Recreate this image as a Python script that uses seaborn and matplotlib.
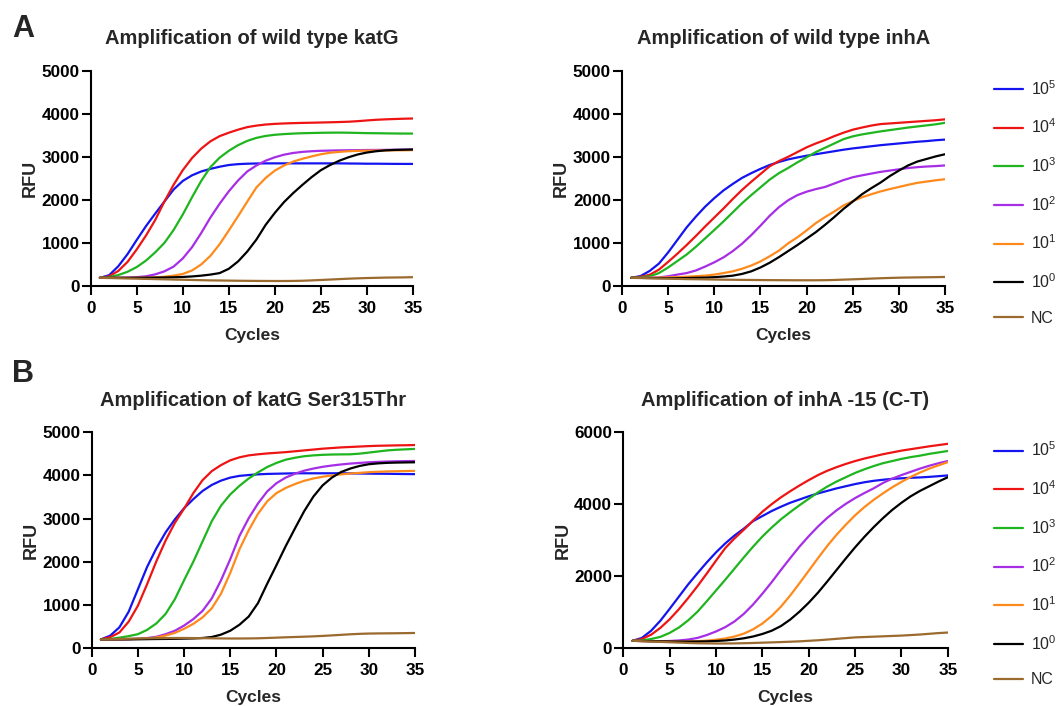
import numpy as np
import pandas as pd
import matplotlib
matplotlib.use('Agg')
import matplotlib.pyplot as plt
import seaborn as sns

cycles = list(range(1, 36))
labels = ['$10^5$', '$10^4$', '$10^3$', '$10^2$', '$10^1$', '$10^0$', 'NC']
colors = ['#1414f0', '#ee1414', '#1fb51f', '#a62ee6', '#ff8a1c', '#000000', '#9b6a2e']

# Panel A left: wild type katG
katg_wt_1e5 = [190, 250, 460, 740, 1070, 1390, 1680, 1960, 2240, 2440, 2570, 2660, 2720, 2770, 2810, 2830, 2840, 2845, 2848,
               2848, 2848, 2848, 2848, 2848, 2848, 2848, 2848, 2845, 2843, 2840, 2840, 2838, 2836, 2835, 2835]
katg_wt_1e4 = [190, 225, 350, 560, 850, 1170, 1530, 1960, 2350, 2690, 2970, 3190, 3360, 3480, 3560, 3630, 3690, 3725, 3750,
               3765, 3775, 3782, 3788, 3792, 3797, 3802, 3808, 3815, 3828, 3845, 3860, 3870, 3878, 3885, 3890]
katg_wt_1e3 = [190, 205, 255, 330, 440, 590, 780, 1000, 1300, 1660, 2060, 2440, 2760, 2980, 3140, 3270, 3370, 3440, 3485,
               3512, 3528, 3540, 3548, 3553, 3558, 3561, 3562, 3560, 3555, 3550, 3548, 3545, 3542, 3540, 3540]
katg_wt_1e2 = [190, 190, 192, 195, 205, 225, 270, 340, 450, 640, 900, 1230, 1590, 1910, 2200, 2450, 2660, 2800, 2910,
               2990, 3050, 3090, 3115, 3130, 3140, 3145, 3150, 3153, 3155, 3158, 3160, 3162, 3165, 3168, 3170]
katg_wt_1e1 = [190, 190, 190, 190, 192, 195, 200, 215, 240, 280, 360, 500, 700, 970, 1290, 1620, 1960, 2290, 2510,
               2680, 2800, 2890, 2955, 3010, 3060, 3095, 3115, 3130, 3138, 3142, 3145, 3148, 3150, 3152, 3155]
katg_wt_1e0 = [190, 190, 190, 190, 190, 192, 195, 198, 203, 210, 222, 240, 265, 300, 400, 570, 800, 1080, 1420,
               1700, 1950, 2160, 2350, 2530, 2690, 2810, 2910, 2990, 3055, 3100, 3130, 3150, 3160, 3165, 3170]
katg_wt_nc = [190, 185, 180, 175, 170, 165, 160, 155, 150, 145, 140, 135, 130, 128, 125, 122, 120, 118, 117,
              116, 116, 118, 122, 130, 140, 150, 160, 170, 178, 185, 190, 195, 198, 200, 205]

# Panel A right: wild type inhA
inha_wt_1e5 = [190, 230, 350, 520, 780, 1070, 1360, 1610, 1840, 2040, 2220, 2370, 2510, 2620, 2720, 2810, 2880, 2940, 2985,
               3025, 3060, 3095, 3130, 3165, 3195, 3220, 3245, 3270, 3290, 3310, 3330, 3350, 3365, 3385, 3400]
inha_wt_1e4 = [190, 215, 260, 380, 560, 750, 950, 1160, 1380, 1590, 1800, 2020, 2230, 2420, 2600, 2780, 2900, 3000, 3110,
               3220, 3310, 3390, 3480, 3560, 3630, 3680, 3725, 3760, 3775, 3790, 3805, 3820, 3835, 3850, 3870]
inha_wt_1e3 = [190, 205, 225, 300, 430, 580, 730, 910, 1105, 1300, 1500, 1710, 1920, 2110, 2290, 2470, 2620, 2740, 2870,
               2990, 3110, 3210, 3310, 3410, 3475, 3520, 3555, 3590, 3620, 3650, 3680, 3705, 3730, 3755, 3790]
inha_wt_1e2 = [190, 190, 192, 200, 225, 265, 300, 360, 450, 550, 665, 810, 980, 1180, 1400, 1630, 1830, 1990, 2110,
               2190, 2250, 2300, 2380, 2460, 2525, 2570, 2610, 2650, 2680, 2710, 2740, 2760, 2775, 2785, 2800]
inha_wt_1e1 = [190, 190, 190, 195, 200, 207, 215, 228, 240, 265, 300, 340, 400, 475, 570, 690, 820, 990, 1130,
               1290, 1460, 1600, 1730, 1870, 1970, 2060, 2130, 2195, 2250, 2300, 2350, 2395, 2425, 2455, 2480]
inha_wt_1e0 = [190, 188, 185, 183, 182, 182, 185, 190, 195, 205, 220, 240, 280, 340, 430, 540, 670, 810, 950,
               1100, 1250, 1420, 1600, 1790, 1960, 2130, 2270, 2400, 2550, 2680, 2800, 2890, 2950, 3010, 3060]
inha_wt_nc = [190, 185, 180, 175, 170, 165, 160, 157, 154, 150, 147, 145, 142, 140, 138, 136, 135, 134, 133,
              133, 133, 135, 140, 148, 155, 163, 172, 180, 187, 193, 197, 200, 203, 206, 210]

# Panel B left: katG Ser315Thr
katg_mut_1e5 = [200, 285, 480, 840, 1360, 1880, 2310, 2680, 2980, 3240, 3450, 3640, 3780, 3880, 3950, 3990, 4010, 4025, 4035,
                4040, 4045, 4050, 4050, 4050, 4050, 4050, 4050, 4048, 4045, 4042, 4040, 4038, 4035, 4032, 4030]
katg_mut_1e4 = [200, 250, 360, 610, 980, 1480, 2010, 2490, 2900, 3230, 3590, 3890, 4100, 4240, 4350, 4420, 4465, 4490, 4510,
                4525, 4540, 4560, 4580, 4600, 4620, 4635, 4650, 4660, 4670, 4680, 4688, 4692, 4697, 4700, 4705]
katg_mut_1e3 = [200, 210, 240, 275, 320, 420, 570, 790, 1130, 1570, 2000, 2470, 2940, 3300, 3560, 3760, 3930, 4070, 4195,
                4290, 4365, 4410, 4445, 4465, 4478, 4485, 4488, 4490, 4505, 4530, 4555, 4580, 4595, 4605, 4615]
katg_mut_1e2 = [200, 200, 200, 205, 215, 230, 260, 320, 400, 520, 670, 860, 1150, 1570, 2060, 2600, 3010, 3350, 3630,
                3820, 3950, 4040, 4110, 4160, 4200, 4230, 4255, 4275, 4290, 4305, 4315, 4322, 4328, 4332, 4335]
katg_mut_1e1 = [200, 200, 200, 205, 210, 220, 245, 290, 350, 445, 560, 710, 920, 1260, 1740, 2290, 2730, 3110, 3400,
                3590, 3710, 3800, 3875, 3930, 3970, 4000, 4025, 4045, 4060, 4075, 4085, 4092, 4098, 4102, 4105]
katg_mut_1e0 = [200, 200, 200, 200, 202, 205, 208, 210, 213, 217, 222, 232, 255, 310, 400, 540, 730, 1040, 1490,
                1920, 2360, 2770, 3170, 3510, 3770, 3950, 4080, 4160, 4220, 4260, 4280, 4292, 4298, 4302, 4305]
katg_mut_nc = [200, 205, 210, 215, 220, 225, 228, 230, 232, 232, 230, 228, 225, 222, 220, 220, 222, 225, 232,
               240, 248, 255, 262, 270, 280, 292, 305, 318, 328, 335, 338, 340, 342, 345, 348]

# Panel B right: inhA -15 (C-T)
inha_mut_1e5 = [200, 280, 480, 760, 1090, 1430, 1770, 2080, 2380, 2660, 2910, 3130, 3320, 3530, 3670, 3810, 3930, 4040, 4130,
                4220, 4300, 4370, 4440, 4500, 4560, 4610, 4650, 4680, 4705, 4720, 4735, 4745, 4760, 4780, 4800]
inha_mut_1e4 = [200, 250, 370, 560, 800, 1080, 1390, 1720, 2070, 2430, 2780, 3050, 3290, 3545, 3790, 4000, 4190, 4360, 4520,
                4670, 4810, 4930, 5030, 5120, 5200, 5270, 5330, 5390, 5440, 5490, 5530, 5570, 5610, 5645, 5680]
inha_mut_1e3 = [200, 210, 250, 310, 420, 570, 770, 1010, 1300, 1600, 1900, 2210, 2520, 2820, 3100, 3350, 3580, 3780, 3970,
                4150, 4330, 4490, 4630, 4750, 4870, 4970, 5060, 5140, 5200, 5260, 5310, 5350, 5400, 5440, 5480]
inha_mut_1e2 = [200, 195, 190, 190, 195, 210, 235, 280, 360, 460, 580, 740, 950, 1210, 1510, 1830, 2170, 2500, 2820,
                3110, 3380, 3620, 3830, 4010, 4170, 4310, 4440, 4590, 4710, 4810, 4900, 4990, 5070, 5140, 5200]
inha_mut_1e1 = [200, 195, 190, 185, 180, 180, 182, 190, 205, 230, 265, 320, 400, 520, 680, 890, 1150, 1460, 1800,
                2150, 2500, 2840, 3150, 3430, 3690, 3920, 4120, 4300, 4470, 4620, 4760, 4880, 4990, 5080, 5170]
inha_mut_1e0 = [200, 195, 190, 185, 180, 178, 178, 180, 185, 195, 210, 235, 270, 320, 390, 480, 610, 790, 1010,
                1260, 1540, 1850, 2170, 2490, 2800, 3090, 3360, 3610, 3840, 4040, 4220, 4370, 4500, 4630, 4750]
inha_mut_nc = [200, 190, 180, 170, 160, 150, 140, 132, 128, 125, 125, 128, 133, 140, 148, 156, 165, 175, 185,
               200, 215, 235, 255, 275, 295, 305, 315, 325, 335, 345, 360, 375, 395, 415, 430]

panels = [
    ('Amplification of wild type katG',
     [katg_wt_1e5, katg_wt_1e4, katg_wt_1e3, katg_wt_1e2, katg_wt_1e1, katg_wt_1e0, katg_wt_nc], 5000, 1000),
    ('Amplification of wild type inhA',
     [inha_wt_1e5, inha_wt_1e4, inha_wt_1e3, inha_wt_1e2, inha_wt_1e1, inha_wt_1e0, inha_wt_nc], 5000, 1000),
    ('Amplification of katG Ser315Thr',
     [katg_mut_1e5, katg_mut_1e4, katg_mut_1e3, katg_mut_1e2, katg_mut_1e1, katg_mut_1e0, katg_mut_nc], 5000, 1000),
    ('Amplification of inhA -15 (C-T)',
     [inha_mut_1e5, inha_mut_1e4, inha_mut_1e3, inha_mut_1e2, inha_mut_1e1, inha_mut_1e0, inha_mut_nc], 6000, 2000),
]

sns.set_theme(style='ticks')
plt.rcParams['font.family'] = ['Liberation Sans', 'DejaVu Sans']
plt.rcParams['mathtext.fontset'] = 'custom'
plt.rcParams['mathtext.rm'] = 'Liberation Sans'
plt.rcParams['mathtext.default'] = 'regular'

W, H = 1059, 706
fig = plt.figure(figsize=(W / 100, H / 100), dpi=100)
boxes = [(90.7, 70.7, 413.0, 286.0), (622.0, 70.7, 945.0, 286.0),
         (91.7, 432.3, 415.0, 648.0), (623.3, 432.3, 947.8, 648.0)]

for i, (title, series, ymax, ystep) in enumerate(panels):
    x0, y0, x1, y1 = boxes[i]
    ax = fig.add_axes([x0 / W, 1 - y1 / H, (x1 - x0) / W, (y1 - y0) / H])
    df = pd.DataFrame({
        'Cycles': cycles * len(labels),
        'RFU': np.concatenate(series),
        'dilution': np.repeat(labels, len(cycles)),
    })
    sns.lineplot(data=df, x='Cycles', y='RFU', hue='dilution', hue_order=labels,
                 palette=colors, linewidth=1.6, legend=False, ax=ax)
    ax.set_xlim(0, 35)
    ax.set_ylim(0, ymax)
    ax.set_xticks(range(0, 36, 5))
    ax.set_yticks(range(0, ymax + 1, ystep))
    sns.despine(ax=ax)
    for s in ['left', 'bottom']:
        ax.spines[s].set_linewidth(1.5)
        ax.spines[s].set_color('black')
    ax.tick_params(width=1.5, length=6.5, labelsize=12.3, colors='black')
    ax.tick_params(axis='x', pad=4)
    ax.tick_params(axis='y', pad=1.5)
    for t in ax.get_xticklabels() + ax.get_yticklabels():
        t.set_fontweight('bold')
    ax.set_xlabel('Cycles', fontsize=12.5, fontweight='bold', labelpad=9)
    ax.set_ylabel('RFU', fontsize=13, fontweight='bold', labelpad=2)
    ax.set_title(title, fontsize=14.5, fontweight='bold', pad=19)
    if i % 2 == 1:
        ax.legend(ax.lines[:len(labels)], labels, loc='upper left',
                  bbox_to_anchor=((994 - x0) / (x1 - x0), 0.962),
                  frameon=False, fontsize=11.5, handlelength=1.8, labelspacing=1.25,
                  handletextpad=0.5, borderpad=0, borderaxespad=0)

fig.text(12 / W, 1 - 37 / H, 'A', fontsize=22, fontweight='bold', va='baseline')
fig.text(12 / W, 1 - 382 / H, 'B', fontsize=22, fontweight='bold', va='baseline')

fig.savefig('out.png', dpi=100, facecolor='white')
